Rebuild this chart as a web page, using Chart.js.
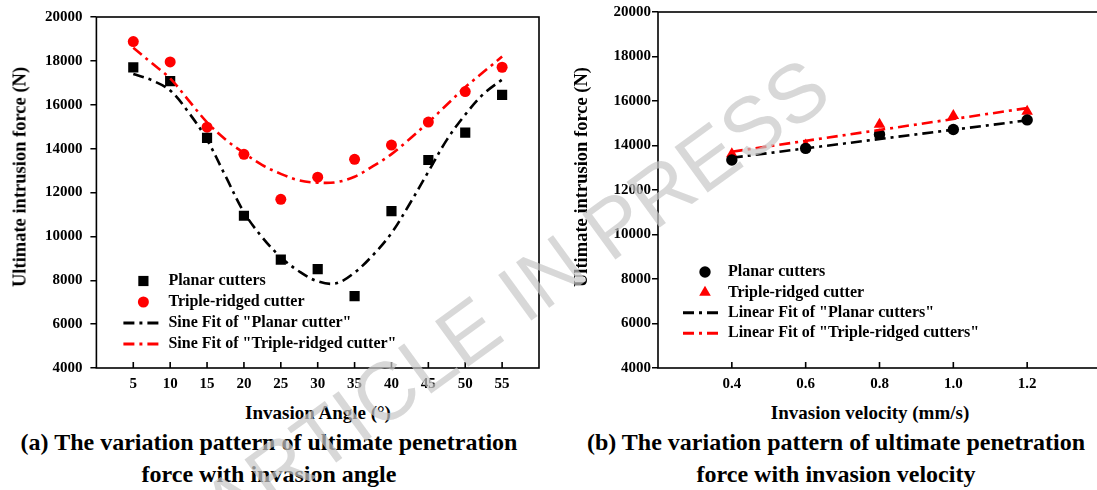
<!DOCTYPE html>
<html lang="en">

<head>
  <meta charset="UTF-8" />
  <title>Ultimate intrusion force</title>
  <script src="https://cdn.jsdelivr.net/npm/chart.js@4.4.1/dist/chart.umd.min.js"></script>
  <style>
    body {
      margin: 0;
      width: 1097px;
      height: 490px;
      overflow: hidden;
      background: #fff;
      position: relative;
      font-family: "Liberation Serif", "Times New Roman", serif;
      font-weight: bold;
      color: #000;
    }

    .wrap {
      position: absolute;
      top: 0;
      width: 560px;
      height: 400px;
    }

    .lbl {
      position: absolute;
      white-space: nowrap;
      transform: translate(-50%, -50%);
    }

    .ytitle {
      font-size: 18.5px;
      transform: translate(-50%, -50%) rotate(-90deg);
    }

    .xtitle {
      font-size: 19px;
    }

    .caption {
      font-size: 24px;
      line-height: 32px;
      text-align: center;
    }

    .watermark {
      position: absolute;
      left: 515px;
      top: 298px;
      transform: translate(-50%, -50%) rotate(-36deg);
      font-family: "Liberation Sans", Arial, sans-serif;
      font-weight: normal;
      font-size: 82px;
      color: rgba(200, 200, 200, 0.7);
      white-space: nowrap;
      pointer-events: none;
    }
  </style>
</head>

<body>
  <div class="wrap" style="left:0"><canvas id="angle-chart"></canvas></div>
  <div class="wrap" style="left:560px"><canvas id="velocity-chart"></canvas></div>

  <div class="lbl ytitle" style="left:20px;top:177px">Ultimate intrusion force (N)</div>
  <div class="lbl ytitle" style="left:581px;top:177px">Ultimate intrusion force (N)</div>
  <div class="lbl xtitle" style="left:318px;top:413px">Invasion Angle (°)</div>
  <div class="lbl xtitle" style="left:870px;top:413px">Invasion velocity (mm/s)</div>
  <div class="lbl caption" style="left:269px;top:458px">(a) The variation pattern of ultimate penetration<br>force with invasion angle</div>
  <div class="lbl caption" style="left:836px;top:458px">(b) The variation pattern of ultimate penetration<br>force with invasion velocity</div>

  <div class="watermark">ARTICLE IN PRESS</div>

<script>
  // (a) force vs invasion angle
  const angleDeg = [5, 10, 15, 20, 25, 30, 35, 40, 45, 50, 55];
  const planarAngleForce = [17700, 17080, 14490, 10940, 8940, 8510, 7280, 11150, 13480, 14730, 16450];
  const tripleAngleForce = [18880, 17950, 14980, 13740, 11690, 12700, 13510, 14160, 15210, 16600, 17710];

  // sine fit curves
  const sineFitAngle = [5, 7.5, 10, 12.5, 15, 17.5, 20, 22.5, 25, 27.5, 30, 32.5, 35, 37.5, 40, 42.5, 45, 47.5, 50, 52.5, 55];
  const planarSineFit = [17400, 17120, 16650, 15650, 14400, 12750, 11100, 9950, 9050, 8400, 7950, 7860, 8350, 9150, 10150, 11500, 12950, 14400, 15550, 16500, 17150];
  const tripleSineFit = [18600, 17900, 17200, 16200, 15200, 14420, 13800, 13250, 12850, 12550, 12450, 12470, 12720, 13200, 13750, 14450, 15200, 16000, 16800, 17500, 18200];

  // (b) force vs invasion velocity
  const velocity = [0.4, 0.6, 0.8, 1.0, 1.2];
  const planarVelForce = [13350, 13870, 14500, 14720, 15150];
  const tripleVelForce = [13620, 14010, 14950, 15340, 15530];

  const linFitVelocity = [0.4, 1.2];
  const planarLinFit = [13450, 15130];
  const tripleLinFit = [13720, 15680];

  const forceTicks = { min: 4000, max: 20000, step: 2000 };

  Chart.defaults.font.family = "'Liberation Serif', 'Times New Roman', serif";
  Chart.defaults.font.weight = 'bold';
  Chart.defaults.font.size = 15;
  Chart.defaults.color = '#000';

  const DASH = [11, 5, 3, 5];

  function pts(xs, ys) {
    return xs.map((x, i) => ({ x: x, y: ys[i] }));
  }

  function marker(ctx, style, r, x, y, color) {
    ctx.fillStyle = color;
    ctx.beginPath();
    if (style === 'rect') {
      const s = r * Math.SQRT2;
      ctx.rect(x - s / 2, y - s / 2, s, s);
    } else if (style === 'triangle') {
      for (let k = 0; k < 3; k++) {
        const a = k * 2 * Math.PI / 3;
        const px = x + Math.sin(a) * r, py = y - Math.cos(a) * r;
        k ? ctx.lineTo(px, py) : ctx.moveTo(px, py);
      }
      ctx.closePath();
    } else {
      ctx.arc(x, y, r, 0, Math.PI * 2);
    }
    ctx.fill();
  }

  // box around the plot + inward ticks on the x axis
  const frameAndTicks = {
    id: 'frameAndTicks',
    afterDatasetsDraw(chart) {
      const { ctx, chartArea: a, scales } = chart;
      ctx.save();
      ctx.strokeStyle = '#000';
      ctx.lineWidth = 1.6;
      ctx.setLineDash([]);
      ctx.strokeRect(a.left, a.top, a.right - a.left, a.bottom - a.top);
      ctx.beginPath();
      scales.x.ticks.forEach(t => {
        const px = scales.x.getPixelForValue(t.value);
        ctx.moveTo(px, a.bottom);
        ctx.lineTo(px, a.bottom - 6);
      });
      ctx.stroke();
      ctx.restore();
    }
  };

  // legend drawn inside the plot area
  const innerLegend = {
    id: 'innerLegend',
    afterDraw(chart, args, opts) {
      const { ctx, chartArea: a } = chart;
      ctx.save();
      ctx.font = "bold 16px 'Liberation Serif', 'Times New Roman', serif";
      ctx.textBaseline = 'middle';
      opts.rows.forEach((idx, i) => {
        const ds = chart.data.datasets[idx];
        const y = a.top + opts.top + i * opts.gap;
        if (ds.showLine) {
          ctx.strokeStyle = ds.borderColor;
          ctx.lineWidth = 3;
          ctx.setLineDash(ds.borderDash);
          ctx.beginPath();
          ctx.moveTo(a.left + opts.lineFrom, y);
          ctx.lineTo(a.left + opts.lineTo, y);
          ctx.stroke();
          ctx.setLineDash([]);
        } else {
          marker(ctx, ds.pointStyle, ds.pointRadius, a.left + opts.marker, y, ds.backgroundColor);
        }
        ctx.fillStyle = '#000';
        ctx.fillText(ds.label, a.left + opts.text, y);
      });
      ctx.restore();
    }
  };

  function makeChart(id, cfg) {
    return new Chart(document.getElementById(id).getContext('2d'), {
      type: 'scatter',
      data: { datasets: cfg.datasets },
      options: {
        responsive: true,
        maintainAspectRatio: false,
        animation: false,
        layout: { padding: { left: 0, right: cfg.padRight, top: 12, bottom: 6 } },
        plugins: {
          legend: { display: false },
          tooltip: { enabled: false },
          innerLegend: cfg.legend
        },
        scales: {
          x: {
            type: 'linear',
            min: cfg.xMin,
            max: cfg.xMax,
            grid: { display: false, drawTicks: false },
            border: { display: false },
            ticks: { stepSize: cfg.xStep, padding: 7, maxRotation: 0, callback: cfg.xFormat },
            afterBuildTicks: s => { s.ticks = s.ticks.filter(t => t.value > cfg.xLo && t.value < cfg.xHi); },
            afterFit: s => { s.height = 26; }
          },
          y: {
            min: forceTicks.min,
            max: forceTicks.max,
            grid: { drawOnChartArea: false, drawTicks: true, tickLength: 6, color: '#000', lineWidth: 1.5 },
            border: { display: false },
            ticks: { stepSize: forceTicks.step, padding: cfg.yPad, callback: v => String(v) },
            afterFit: s => { s.width = cfg.yWidth; }
          }
        }
      },
      plugins: [frameAndTicks, innerLegend]
    });
  }

  makeChart('angle-chart', {
    padRight: 21,
    yWidth: 96.4,
    yPad: 8,
    xMin: 0, xMax: 60, xStep: 5, xLo: 4, xHi: 56,
    xFormat: v => String(v),
    legend: { rows: [2, 3, 0, 1], top: 264, gap: 21, marker: 47, text: 72, lineFrom: 27, lineTo: 66 },
    datasets: [
      {
        label: 'Sine Fit of "Planar cutter"',
        data: pts(sineFitAngle, planarSineFit),
        showLine: true, pointRadius: 0, borderColor: '#000', borderWidth: 2.6,
        borderDash: DASH, tension: 0.35, order: 0
      },
      {
        label: 'Sine Fit of "Triple-ridged cutter"',
        data: pts(sineFitAngle, tripleSineFit),
        showLine: true, pointRadius: 0, borderColor: '#ff0000', borderWidth: 2.6,
        borderDash: DASH, tension: 0.35, order: 0
      },
      {
        label: 'Planar cutters',
        data: pts(angleDeg, planarAngleForce),
        pointStyle: 'rect', pointRadius: 7.2, backgroundColor: '#000', borderColor: '#000',
        borderWidth: 0, order: 1
      },
      {
        label: 'Triple-ridged cutter',
        data: pts(angleDeg, tripleAngleForce),
        pointStyle: 'circle', pointRadius: 5.5, backgroundColor: '#ff0000', borderColor: '#ff0000',
        borderWidth: 0, order: 1
      }
    ]
  });

  makeChart('velocity-chart', {
    padRight: 19,
    yWidth: 98,
    yPad: 1,
    xMin: 0.2, xMax: 1.4, xStep: 0.2, xLo: 0.3, xHi: 1.3,
    xFormat: v => Number(v).toFixed(1),
    legend: { rows: [2, 3, 0, 1], top: 260, gap: 20.4, marker: 47, text: 70, lineFrom: 25, lineTo: 64 },
    datasets: [
      {
        label: 'Linear Fit of "Planar cutters"',
        data: pts(linFitVelocity, planarLinFit),
        showLine: true, pointRadius: 0, borderColor: '#000', borderWidth: 2.6,
        borderDash: DASH, order: 0
      },
      {
        label: 'Linear Fit of "Triple-ridged cutters"',
        data: pts(linFitVelocity, tripleLinFit),
        showLine: true, pointRadius: 0, borderColor: '#ff0000', borderWidth: 2.6,
        borderDash: DASH, order: 0
      },
      {
        label: 'Planar cutters',
        data: pts(velocity, planarVelForce),
        pointStyle: 'circle', pointRadius: 5.7, backgroundColor: '#000', borderColor: '#000',
        borderWidth: 0, order: 1
      },
      {
        label: 'Triple-ridged cutter',
        data: pts(velocity, tripleVelForce),
        pointStyle: 'triangle', pointRadius: 6.7, backgroundColor: '#ff0000', borderColor: '#ff0000',
        borderWidth: 0, order: 1
      }
    ]
  });
</script>
</body>

</html>
